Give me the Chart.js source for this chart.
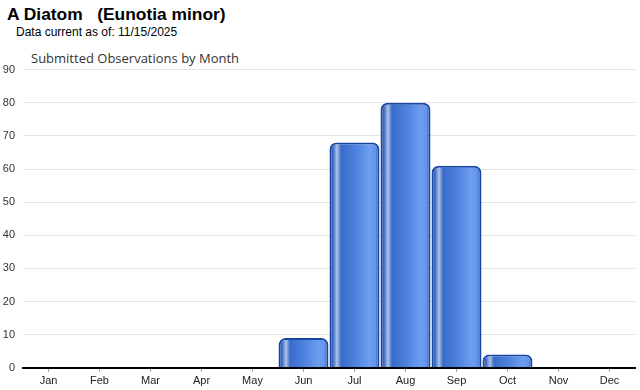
<!DOCTYPE html>
<html>
<head>
<meta charset="utf-8">
<script src="https://cdn.jsdelivr.net/npm/chart.js@4"></script>
<style>
  body { margin: 0; background: #fff; width: 640px; height: 390px; position: relative; overflow: hidden; }
  #titulo { position: absolute; left: 7px; top: 4px; font: bold 17.4px "Liberation Sans", Arial, sans-serif; color: #000; white-space: pre; }
  #fecha { position: absolute; left: 16px; top: 25px; font: 12px "Liberation Sans", Arial, sans-serif; color: #000; }
  #subtitulo { position: absolute; left: 31px; top: 49px; font: 13px "Open Sans", sans-serif; color: #333; }
  #caja { position: absolute; left: 0; top: 55px; width: 640px; height: 336px; }
</style>
</head>
<body>
<div id="titulo">A Diatom   (Eunotia minor)</div>
<div id="fecha">Data current as of: 11/15/2025</div>
<div id="subtitulo">Submitted Observations by Month</div>
<div id="caja"><canvas id="miGrafica"></canvas></div>
<script>
const meses = ['Jan', 'Feb', 'Mar', 'Apr', 'May', 'Jun', 'Jul', 'Aug', 'Sep', 'Oct', 'Nov', 'Dec'];
const observaciones = [0, 0, 0, 0, 0, 9, 68, 80, 61, 4, 0, 0];
const marcas_y = [0, 10, 20, 30, 40, 50, 60, 70, 80, 90];

// degradado horizontal de cada barra, calculado con la escala x
const degradado = (context) => {
    const chart = context.chart;
    const escala = chart.scales.x;
    if (!escala || !chart.chartArea) return '#4a7fdc';
    const centro = escala.getPixelForValue(context.dataIndex);
    const ancho = escala.width / meses.length * 0.98;
    const g = chart.ctx.createLinearGradient(centro - ancho / 2, 0, centro + ancho / 2, 0);
    g.addColorStop(0, '#1542a0');
    g.addColorStop(0.07, '#3c6cc4');
    g.addColorStop(0.15, '#b0c3e4');
    g.addColorStop(0.23, '#3a6bcb');
    g.addColorStop(0.5, '#4b80dc');
    g.addColorStop(0.8, '#6d9ef1');
    g.addColorStop(0.92, '#6593e8');
    g.addColorStop(1, '#1a4aac');
    return g;
};

const canva_grafica = document.getElementById('miGrafica').getContext('2d');
new Chart(canva_grafica, {
    type: 'bar',
    data: {
        labels: meses,
        datasets: [{
            label: 'Submitted Observations',
            data: observaciones,
            backgroundColor: degradado,
            borderColor: '#1645a3',
            borderWidth: 2,
            borderRadius: { topLeft: 7, topRight: 7 },
            borderSkipped: 'bottom',
            barPercentage: 0.98,
            categoryPercentage: 1
        }]
    },
    options: {
        responsive: true,
        maintainAspectRatio: false,
        animation: false,
        layout: { padding: { top: 0, right: 5, left: 0, bottom: 0 } },
        plugins: {
            legend: { display: false },
            tooltip: { enabled: false }
        },
        scales: {
            x: {
                grid: { offset: false, drawOnChartArea: false, drawTicks: true, tickLength: 4, color: '#999' },
                border: { display: true, color: '#000', width: 2 },
                ticks: { color: '#222', font: { family: 'Liberation Sans', size: 11 }, padding: 3 }
            },
            y: {
                min: 0,
                max: 90,
                afterBuildTicks: escala => { escala.ticks = marcas_y.map(v => ({ value: v })); },
                afterFit: escala => { escala.width = 23; },
                grid: { color: '#e3e3e3', drawTicks: false },
                border: { display: false },
                ticks: { color: '#333', font: { family: 'Liberation Sans', size: 11 }, padding: 8 }
            }
        }
    }
});
</script>
</body>
</html>
